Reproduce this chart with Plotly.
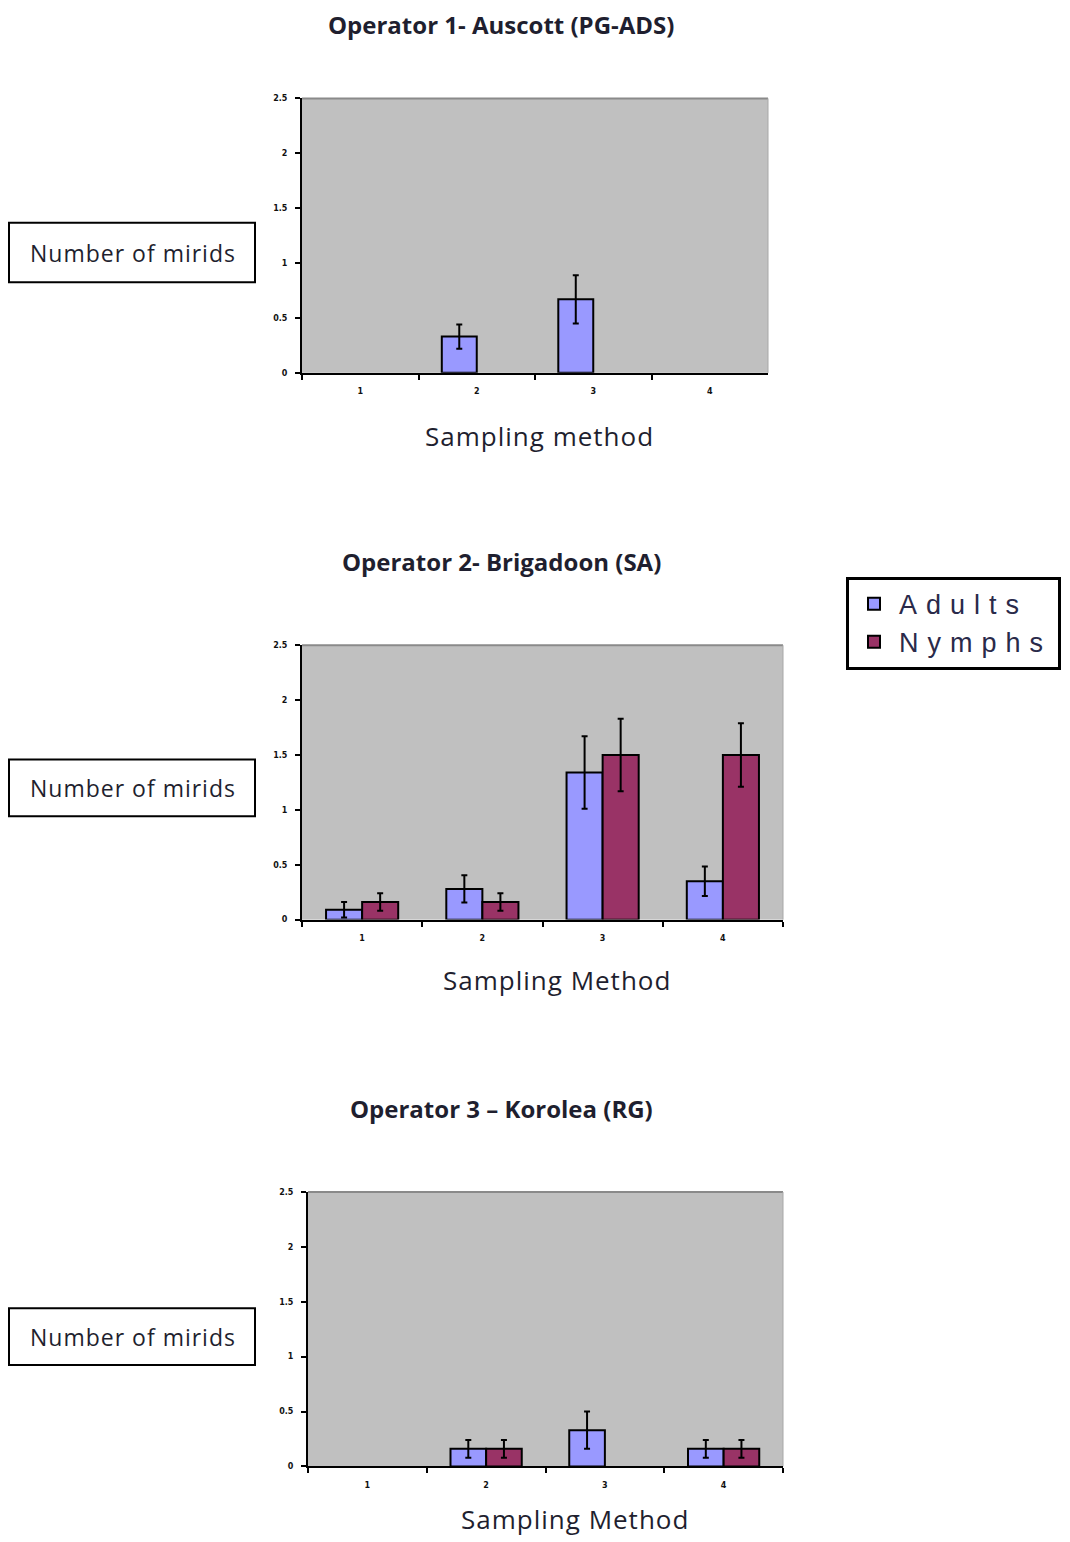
import plotly.graph_objects as go

# Sampling methods (x categories)
methods = ["1", "2", "3", "4"]

# Operator 1 - Auscott (PG-ADS); None = no mirids recorded
op1_adults = [None, 0.33, 0.67, None]
op1_adults_err = [None, 0.11, 0.22, None]
op1_nymphs = [None, None, None, None]
op1_nymphs_err = [None, None, None, None]

# Operator 2 - Brigadoon (SA)
op2_adults = [0.09, 0.28, 1.34, 0.35]
op2_adults_err = [0.07, 0.125, 0.33, 0.135]
op2_nymphs = [0.16, 0.16, 1.5, 1.5]
op2_nymphs_err = [0.08, 0.08, 0.33, 0.29]

# Operator 3 - Korolea (RG)
op3_adults = [None, 0.16, 0.33, 0.16]
op3_adults_err = [None, 0.08, 0.17, 0.08]
op3_nymphs = [None, 0.16, None, 0.16]
op3_nymphs_err = [None, 0.08, None, 0.08]

titles = ["Operator 1- Auscott (PG-ADS)", "Operator 2- Brigadoon (SA)", "Operator 3 \u2013 Korolea (RG)"]
xlabels = ["Sampling method", "Sampling Method", "Sampling Method"]
ylabel = "Number of mirids"
series_names = ["Adults", "Nymphs"]
y_ticks = [0, 0.5, 1, 1.5, 2, 2.5]
y_ticktext = ["0", "0.5", "1", "1.5", "2", "2.5"]

ADULT_COLOR = "#9999FF"
NYMPH_COLOR = "#993366"
PLOT_BG = "#C0C0C0"

W, H = 1070, 1542

def px_x(v):
    return v / W

def px_y(v):
    return 1 - v / H

def spaced(text, px):
    return f'<span style="letter-spacing:{px}px">{text}</span>'

# plot-area pixel boxes (left, right, top, bottom)
panels = [
    dict(box=(302, 768, 95, 371), adults=op1_adults, aerr=op1_adults_err,
         nymphs=op1_nymphs, nerr=op1_nymphs_err,
         title_y=21, xlab=(539, 435), ybox=(220, 280)),
    dict(box=(302, 783, 645, 921), adults=op2_adults, aerr=op2_adults_err,
         nymphs=op2_nymphs, nerr=op2_nymphs_err,
         title_y=561, xlab=(557, 982), ybox=(760, 817)),
    dict(box=(308, 783, 1195, 1471), adults=op3_adults, aerr=op3_adults_err,
         nymphs=op3_nymphs, nerr=op3_nymphs_err,
         title_y=1111, xlab=(575, 1524), ybox=(1312, 1369)),
]

fig = go.Figure()
annotations = []
shapes = []

tick_font = dict(family="DejaVu Sans", size=8, color="#111111", weight="bold")
TEXT_COLOR = "#1f1f2f"

for i, p in enumerate(panels, start=1):
    xa = "x" if i == 1 else f"x{i}"
    ya = "y" if i == 1 else f"y{i}"
    for name, vals, errs, color in [
        (series_names[0], p["adults"], p["aerr"], ADULT_COLOR),
        (series_names[1], p["nymphs"], p["nerr"], NYMPH_COLOR),
    ]:
        fig.add_trace(go.Bar(
            x=methods, y=vals,
            name=spaced(name, 9),
            xaxis=xa, yaxis=ya,
            marker=dict(color=color, line=dict(color="black", width=2)),
            error_y=dict(type="data", array=errs, visible=True,
                         color="black", thickness=2, width=3),
            showlegend=(i == 2), legendgroup=name,
        ))

    l, r, t, b = p["box"]
    xkey = "xaxis" if i == 1 else f"xaxis{i}"
    ykey = "yaxis" if i == 1 else f"yaxis{i}"
    fig.update_layout(**{
        xkey: dict(domain=[px_x(l), px_x(r)], anchor=ya, type="category",
                   tickson="boundaries", ticks="outside", ticklen=5, tickwidth=2,
                   tickcolor="black", showline=True, linecolor="black",
                   linewidth=2, showgrid=False, tickfont=tick_font,
                   ticklabelstandoff=10),
        ykey: dict(domain=[px_y(b), px_y(t)], anchor=xa, range=[0, 2.5],
                   tickvals=y_ticks, ticktext=y_ticktext, ticks="outside",
                   ticklen=5, tickwidth=2, tickcolor="black", showline=True,
                   linecolor="black", linewidth=2, showgrid=False,
                   zeroline=False, tickfont=tick_font, ticklabelstandoff=6),
    })

    # thin grey frame on the top and right of the plot area
    shapes.append(dict(type="line", xref=f"{xa} domain", yref=f"{ya} domain",
                       x0=0, x1=1, y0=1, y1=1, line=dict(color="#8a8a8a", width=2),
                       layer="below"))
    shapes.append(dict(type="line", xref=f"{xa} domain", yref=f"{ya} domain",
                       x0=1, x1=1, y0=0, y1=1, line=dict(color="#a8a8a8", width=1),
                       layer="below"))

    # panel title
    annotations.append(dict(
        text=titles[i - 1], x=px_x(501), y=px_y(p["title_y"]), xref="paper",
        yref="paper", showarrow=False, xanchor="center", yanchor="middle",
        font=dict(family="Open Sans", size=24, color=TEXT_COLOR, weight="bold"),
    ))
    # x-axis title
    cx, cy = p["xlab"]
    annotations.append(dict(
        text=spaced(xlabels[i - 1], 1), x=px_x(cx), y=px_y(cy), xref="paper",
        yref="paper", showarrow=False, xanchor="center", yanchor="middle",
        font=dict(family="Open Sans", size=26, color=TEXT_COLOR),
    ))
    # boxed y-axis label
    yt, yb = p["ybox"]
    shapes.append(dict(type="rect", xref="paper", yref="paper",
                       x0=px_x(9), x1=px_x(255), y0=px_y(yb), y1=px_y(yt),
                       line=dict(color="black", width=2), fillcolor="white"))
    annotations.append(dict(
        text=spaced(ylabel, 1), x=px_x(133), y=px_y((yt + yb) / 2), xref="paper",
        yref="paper", showarrow=False, xanchor="center", yanchor="middle",
        font=dict(family="Open Sans", size=23, color=TEXT_COLOR),
    ))

fig.update_layout(
    width=W, height=H,
    margin=dict(l=0, r=0, t=0, b=0),
    paper_bgcolor="white",
    plot_bgcolor=PLOT_BG,
    barmode="group",
    bargap=0.4,
    bargroupgap=0,
    annotations=annotations,
    shapes=shapes,
    legend=dict(
        x=px_x(846), y=px_y(576), xanchor="left", yanchor="top",
        bordercolor="black", borderwidth=3, bgcolor="white",
        font=dict(family="Liberation Sans", size=27, color="#2a2a4a"),
        itemwidth=40, tracegroupgap=0,
    ),
)

fig.write_html("out.html")
